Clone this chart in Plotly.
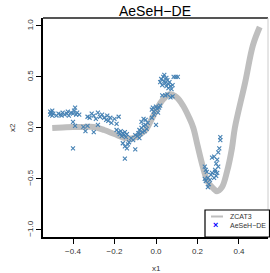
import plotly.graph_objects as go

# ZCAT3 reference front
front_x = [-0.5, -0.45, -0.4, -0.35, -0.3, -0.25, -0.2, -0.15, -0.11, -0.077, -0.05, -0.03,
           0.0, 0.03, 0.067, 0.1, 0.13, 0.16, 0.18, 0.2, 0.227, 0.25, 0.275, 0.294, 0.318,
           0.342, 0.366, 0.38, 0.43, 0.467, 0.5]
front_y = [0.0, 0.005, 0.01, 0.01, 0.01, -0.02, -0.06, -0.1, -0.1, -0.06, -0.02, 0.05,
           0.17, 0.27, 0.33, 0.3, 0.22, 0.1, 0.0, -0.17, -0.39, -0.53, -0.59, -0.62, -0.58,
           -0.43, -0.2, 0.0, 0.45, 0.81, 0.99]

# AeSeH-DE solutions
sol_x = [-0.51, -0.51, -0.505, -0.50, -0.50, -0.495, -0.48, -0.47, -0.46, -0.455, -0.45, -0.44,
         -0.43, -0.425, -0.42, -0.41, -0.40, -0.395, -0.39, -0.385, -0.38, -0.37, -0.40, -0.39,
         -0.40, -0.35, -0.34, -0.30, -0.33, -0.32, -0.31, -0.30, -0.29, -0.28, -0.28, -0.27,
         -0.26, -0.25, -0.24, -0.235, -0.23, -0.22, -0.215, -0.20, -0.19, -0.18, -0.33,
         -0.19, -0.18, -0.175, -0.17, -0.165, -0.16, -0.155, -0.15, -0.145, -0.14, -0.16, -0.15,
         -0.14, -0.135, -0.13, -0.15, -0.10, -0.12, -0.11,
         -0.09, -0.085, -0.08, -0.075, -0.07, -0.065, -0.06, -0.055, -0.05, -0.045, -0.07, -0.06,
         -0.05, -0.04, -0.08, -0.10,
         -0.02, -0.015, -0.01, 0.0, 0.005, 0.01, 0.015, 0.02, -0.01, 0.0, -0.02,
         0.02, 0.025, 0.03, 0.035, 0.04, 0.04, 0.045, 0.05, 0.05, 0.055, 0.06, 0.06, 0.065,
         0.07, 0.075, 0.08, 0.085, 0.095, 0.105, 0.03, 0.045, 0.055, 0.07, 0.08,
         0.31, 0.31, 0.305, 0.30, 0.27, 0.28, 0.295, 0.29, 0.30, 0.285, 0.295, 0.29, 0.28,
         0.285, 0.27, 0.235, 0.24, 0.245, 0.25, 0.235, 0.24, 0.255, 0.26, 0.25, 0.265]
sol_y = [0.16, 0.13, 0.15, 0.12, 0.17, 0.14, 0.12, 0.14, 0.13, 0.12, 0.15, 0.13,
         0.14, 0.16, 0.12, 0.15, 0.14, 0.17, 0.2, 0.13, 0.15, 0.13, 0.06, 0.02,
         -0.2, 0.01, -0.03, -0.04, 0.11, 0.10, 0.14, 0.12, 0.09, 0.15, 0.03, 0.11,
         0.13, 0.10, 0.08, 0.12, 0.07, 0.10, 0.05, 0.09, 0.04, 0.11, 0.02,
         -0.02, -0.04, -0.06, -0.03, -0.08, -0.05, -0.07, -0.04, -0.09, -0.06, -0.15, -0.18,
         -0.2, -0.16, -0.14, -0.3, -0.21, -0.1, -0.12,
         -0.08, -0.05, -0.02, -0.06, 0.0, -0.04, 0.02, -0.03, 0.03, -0.01, 0.06, 0.09,
         0.08, 0.05, -0.1, -0.07,
         0.18, 0.2, 0.16, 0.21, 0.19, 0.15, 0.2, 0.22, 0.13, 0.03, 0.1,
         0.45, 0.48, 0.42, 0.5, 0.46, 0.52, 0.44, 0.49, 0.41, 0.47, 0.43, 0.39, 0.45,
         0.41, 0.38, 0.42, 0.5, 0.5, 0.5, 0.32, 0.32, 0.33, 0.3, 0.31,
         -0.09, -0.12, -0.2, -0.24, -0.29, -0.28, -0.31, -0.35, -0.38, -0.41, -0.44, -0.47, -0.49,
         -0.43, -0.44, -0.38, -0.41, -0.43, -0.49, -0.5, -0.52, -0.55, -0.51, -0.58, -0.46]

x_ticks = [-0.4, -0.2, 0.0, 0.2, 0.4]
y_ticks = [-1.0, -0.5, 0.0, 0.5, 1.0]
legend_names = ["ZCAT3", "AeSeH−DE"]

FONT = "Liberation Sans, Arial, sans-serif"
W, H = 270, 273
L, R, T, B = 43, 2, 18, 36
PW, PH = W - L - R, H - T - B


def px(xp):
    return (xp - L) / PW


def py(yp):
    return (H - B - yp) / PH


fig = go.Figure()
fig.add_trace(go.Scatter(x=front_x, y=front_y, mode="lines", name=legend_names[0],
                         line=dict(color="#BEBEBE", width=6, shape="spline"),
                         showlegend=False))
fig.add_trace(go.Scatter(x=sol_x, y=sol_y, mode="markers", name=legend_names[1],
                         marker=dict(symbol="x-thin", size=4, color="#4682B4",
                                     line=dict(color="#4682B4", width=1.1)),
                         showlegend=False))

shapes = [
    dict(type="line", xref="paper", yref="paper", x0=0, x1=1, y0=1, y1=1,
         line=dict(color="#555555", width=2)),
    dict(type="line", xref="paper", yref="paper", x0=1, x1=1, y0=0, y1=1,
         line=dict(color="#CCCCCC", width=1)),
    # legend box
    dict(type="rect", xref="paper", yref="paper", x0=px(205), x1=px(269.5),
         y0=py(237), y1=py(210), line=dict(color="black", width=1.2),
         fillcolor="white", layer="above"),
    dict(type="line", xref="paper", yref="paper", x0=px(211), x1=px(223),
         y0=py(216.5), y1=py(216.5), line=dict(color="#BEBEBE", width=2),
         layer="above"),
]

annotations = [
    dict(text=legend_names[0], xref="paper", yref="paper", x=px(228), y=py(216.5),
         xanchor="left", yanchor="middle", showarrow=False,
         font=dict(size=7, color="#333333", family=FONT)),
    dict(text=legend_names[1], xref="paper", yref="paper", x=px(228), y=py(225),
         xanchor="left", yanchor="middle", showarrow=False,
         font=dict(size=7, color="#333333", family=FONT)),
    dict(text="<b>×</b>", xref="paper", yref="paper", x=px(215), y=py(225),
         xanchor="center", yanchor="middle", showarrow=False,
         font=dict(size=9, color="#0000FF", family=FONT)),
    dict(text="x1", xref="paper", yref="paper", x=px(156), y=py(268),
         xanchor="center", yanchor="middle", showarrow=False,
         font=dict(size=8, color="#333333", family=FONT)),
    dict(text="x2", xref="paper", yref="paper", x=px(12), y=py(128),
         xanchor="center", yanchor="middle", showarrow=False, textangle=-90,
         font=dict(size=8, color="#333333", family=FONT)),
]

fig.update_layout(
    width=W, height=H,
    margin=dict(l=L, r=R, t=T, b=B, autoexpand=False),
    paper_bgcolor="white", plot_bgcolor="white",
    font=dict(family=FONT, size=8, color="#333333"),
    showlegend=False,
    title=dict(text="AeSeH−DE", x=155 / W, xanchor="center", y=1 - 11 / H,
               yanchor="middle", font=dict(size=14, color="black", family=FONT)),
    xaxis=dict(range=[-0.5446, 0.5398], tickvals=x_ticks, tickformat=".1f",
               automargin=False,
               showgrid=False, zeroline=False, showline=True, linecolor="black",
               linewidth=2, ticks="outside", ticklen=5, tickcolor="black"),
    yaxis=dict(range=[-1.069, 1.078], tickvals=y_ticks, tickformat=".1f",
               tickangle=-90, automargin=False,
               showgrid=False, zeroline=False, showline=True, linecolor="black",
               linewidth=2, ticks="outside", ticklen=5, tickcolor="black"),
    shapes=shapes,
    annotations=annotations,
)

fig.write_html(
    "out.html",
    config={"displayModeBar": False},
    post_script="document.body.style.margin='0';document.body.style.overflow='hidden';",
)
